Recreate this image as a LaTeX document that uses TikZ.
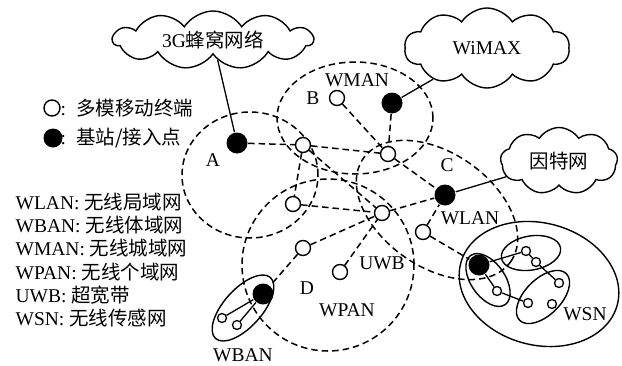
\documentclass[tikz,border=0pt]{standalone}
\usepackage{fontspec}
\setmainfont{Liberation Serif}
\newfontfamily\cjk{Noto Sans CJK SC}
\usetikzlibrary{shapes.symbols}
\begin{document}
\begin{tikzpicture}[x=1pt,y=-1pt, line width=1.3pt, font=\fontsize{19.5}{23}\selectfont,
 dsh/.style={dash pattern=on 6.5pt off 4pt, line width=1.5pt},
 term/.style={circle, draw, fill=white, minimum size=15pt, inner sep=0pt, line width=1.4pt},
 bs/.style={circle, fill=black, minimum size=21pt, inner sep=0pt},
 sn/.style={circle, draw, fill=white, minimum size=9pt, inner sep=0pt, line width=1.3pt},
 lbl/.style={inner sep=0pt},
 cl/.style={cloud, draw, fill=white, cloud puffs=11, cloud puff arc=115, cloud ignores aspect, inner sep=0pt, line width=1.4pt},
 link/.style={line width=1.3pt},
 area/.style={line width=1.4pt}]
\useasboundingbox (0,0) rectangle (622,365);

% dashed coverage areas
\draw[dsh] (250,175) ellipse [x radius=68pt, y radius=63pt];
\draw[dsh] (355,118) ellipse [x radius=78pt, y radius=56pt];
\draw[dsh, rotate around={-35:(437,210)}] (437,210) ellipse [x radius=90pt, y radius=57pt];
\draw[dsh] (328,265) circle [radius=86pt];

% solid groups
\draw[area, rotate around={-15:(539,284)}] (539,284) ellipse [x radius=81pt, y radius=61pt];
\draw[area, rotate around={-55:(488,280)}] (488,280) ellipse [x radius=30pt, y radius=17pt];
\draw[area, rotate around={10:(531,253)}] (531,253) ellipse [x radius=30pt, y radius=17pt];
\draw[area, rotate around={45:(543,297)}] (543,297) ellipse [x radius=33pt, y radius=18pt];
\draw[area, rotate around={48:(243,308)}] (243,308) ellipse [x radius=41pt, y radius=19pt];

% clouds
\node[cl, minimum width=200pt, minimum height=58pt] (g3) at (213,40) {3G{\cjk 蜂窝网络}};
\node[cl, cloud puffs=10, minimum width=165pt, minimum height=80pt] (wimax) at (487,48) {WiMAX};
\node[cl, cloud puffs=9, minimum width=117pt, minimum height=67pt] (inet) at (559,161) {{\cjk 因特网}};

% base stations
\node[bs] (Abs) at (237,143) {};
\node[bs] (Bbs) at (392,103) {};
\node[bs] (Cbs) at (445,195) {};
\node[bs] (Dbs) at (263,294) {};
\node[bs] (Wbs) at (479,265) {};

% terminals
\node[term] (mB) at (337,98) {};
\node[term] (m1) at (303,145) {};
\node[term] (m2) at (388,154) {};
\node[term] (m3) at (293,204) {};
\node[term] (m4) at (382,213) {};
\node[term] (m5) at (423,232) {};
\node[term] (m6) at (303,248) {};
\node[term] (m7) at (340,272) {};

% sensor / body nodes
\node[sn] (b1) at (222,318) {};
\node[sn] (b2) at (237,325) {};
\node[sn] (t1) at (526,251) {};
\node[sn] (t2) at (536,262) {};
\node[sn] (l1) at (497,291) {};
\node[sn] (r1) at (559,283) {};
\node[sn] (r2) at (528,303) {};
\node[sn] (r3) at (552,304) {};

% dashed links
\draw[dsh] (Abs) -- (m1);
\draw[dsh] (m1) -- (m2);
\draw[dsh] (mB) -- (m2);
\draw[dsh] (Bbs) -- (m2);
\draw[dsh] (m2) -- (Cbs);
\draw[dsh] (m1) -- (m3);
\draw[dsh] (m1) -- (m4);
\draw[dsh] (m3) -- (m4);
\draw[dsh] (m6) -- (m4);
\draw[dsh] (m7) -- (m4);
\draw[dsh] (m4) -- (Cbs);
\draw[dsh] (m5) -- (Cbs);
\draw[dsh] (m5) -- (Wbs);
\draw[dsh] (m6) -- (Dbs);

% solid links
\draw[link] (Abs) -- (g3);
\draw[link] (Bbs) -- (wimax);
\draw[link] (Cbs) -- (inet);
\draw[link] (b1) -- (Dbs);
\draw[link] (b2) -- (Dbs);
\draw[link] (Wbs) -- (t1);
\draw[link] (t1) -- (t2);
\draw[link] (t2) -- (r1);
\draw[link] (Wbs) -- (l1);
\draw[link] (l1) -- (r2);

% labels
\node[lbl] (la) at (213,160) {A};
\node[lbl] (lb) at (313,98) {B};
\node[lbl] (lc) at (447,165) {C};
\node[lbl] (ld) at (307,288) {D};
\node[lbl] (lwman) at (357,80) {WMAN};
\node[lbl] (lwlan) at (470,218) {WLAN};
\node[lbl] (luwb) at (382,263) {UWB};
\node[lbl] (lwpan) at (347,310) {WPAN};
\node[lbl] (lwban) at (243,355) {WBAN};
\node[lbl] (lwsn) at (585,314) {WSN};

% legend
\node[term, minimum size=16pt] (lo) at (52,108) {};
\node[lbl, anchor=west] (lot) at (60,108) {:\hspace{10pt}{\cjk 多模移动终端}};
\node[bs, minimum size=19pt] (lf) at (53,138) {};
\node[lbl, anchor=west] (lft) at (60,138) {:\hspace{10pt}{\cjk 基站/接入点}};
\node[lbl, anchor=west] (k1) at (15,202) {WLAN: {\cjk 无线局域网}};
\node[lbl, anchor=west] (k2) at (15,225) {WBAN: {\cjk 无线体域网}};
\node[lbl, anchor=west] (k3) at (15,248) {WMAN: {\cjk 无线城域网}};
\node[lbl, anchor=west] (k4) at (15,272) {WPAN: {\cjk 无线个域网}};
\node[lbl, anchor=west] (k5) at (15,295) {UWB: {\cjk 超宽带}};
\node[lbl, anchor=west] (k6) at (15,318) {WSN: {\cjk 无线传感网}};
\end{tikzpicture}
\end{document}
